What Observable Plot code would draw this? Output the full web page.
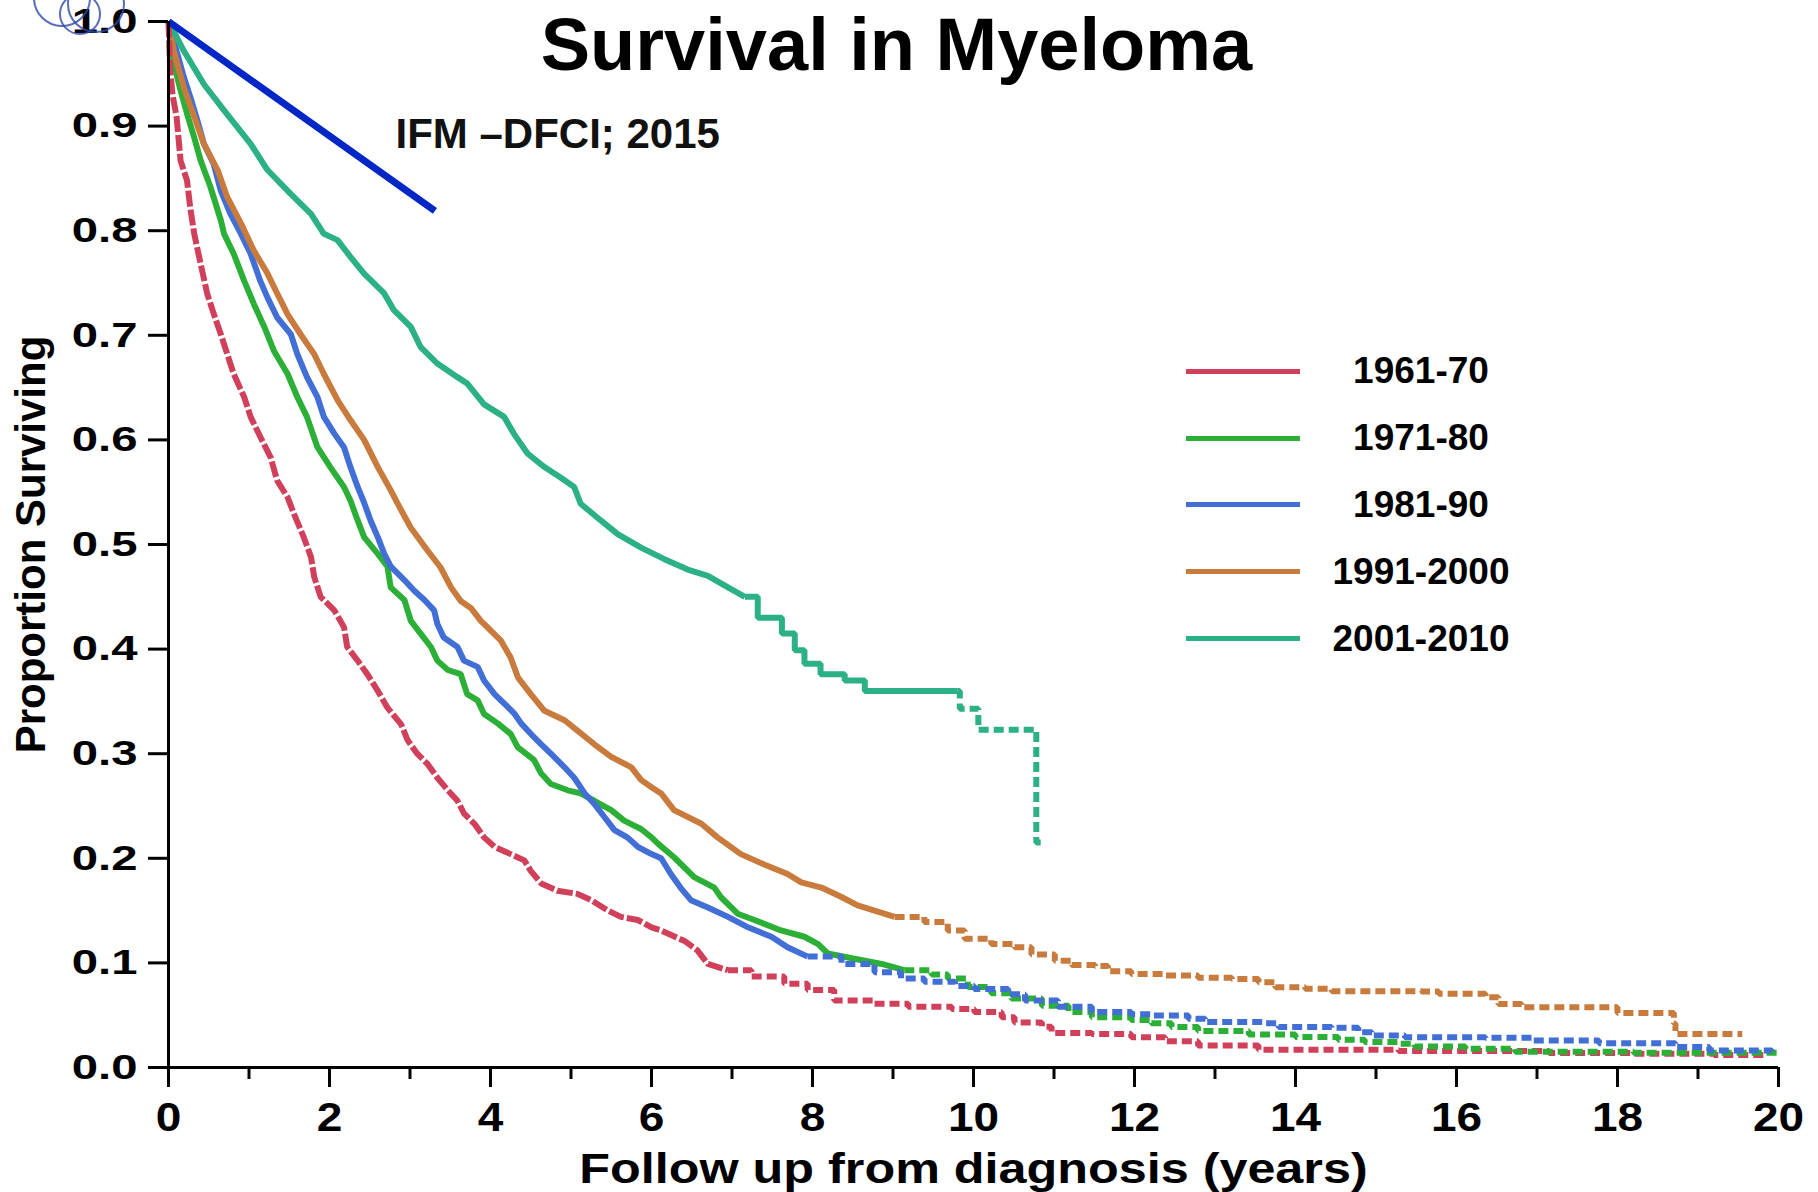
<!DOCTYPE html>
<html><head><meta charset="utf-8">
<script src="https://cdn.jsdelivr.net/npm/d3@7"></script>
<script src="https://cdn.jsdelivr.net/npm/@observablehq/plot@0.6"></script>
<style>
html,body{margin:0;padding:0;background:#fff;}
#wrap{position:relative;width:1818px;height:1192px;font-family:"Liberation Sans",Arial,sans-serif;}
#legend{position:absolute;left:1186px;top:338px;}
.row{display:flex;align-items:center;height:66.8px;}
.sw{width:114px;height:5px;}
.lab{width:242px;text-align:center;font-weight:bold;font-size:37px;color:#000;}
#logo{position:absolute;left:0;top:0;}
</style></head><body><div id="wrap"></div>
<script>
const titleText = "Survival in Myeloma";
const noteText = "IFM \u2013DFCI; 2015";
const xTitle = "Follow up from diagnosis (years)";
const yTitle = "Proportion Surviving";
const seriesNames = ["1961-70", "1971-80", "1981-90", "1991-2000", "2001-2010"];
const seriesColors = ["#d1405b", "#2baf36", "#426fd6", "#c97b3d", "#2cb086"];
const stepFrom = [7.0, 9.2, 8.0, 9.1, 7.2];
const dashFrom = [7.0, 9.2, 8.0, 9.1, 9.8];
const yTicks = [0, 0.1, 0.2, 0.3, 0.4, 0.5, 0.6, 0.7, 0.8, 0.9, 1.0];
const xTicks = [0, 2, 4, 6, 8, 10, 12, 14, 16, 18, 20];
const xMinorTicks = [1, 3, 5, 7, 9, 11, 13, 15, 17, 19];
const ifmLine = [[0, 1.0], [3.31, 0.819]];

const km1961 = [[0,1],[0.02,0.955],[0.05,0.93],[0.10,0.909],[0.15,0.867],[0.23,0.848],[0.27,0.822],[0.32,0.797],[0.40,0.768],[0.48,0.740],[0.56,0.721],[0.65,0.701],[0.73,0.682],[0.81,0.663],[0.94,0.641],[1.02,0.622],[1.14,0.603],[1.27,0.583],[1.35,0.561],[1.48,0.545],[1.56,0.529],[1.68,0.507],[1.77,0.488],[1.81,0.469],[1.89,0.450],[2.06,0.437],[2.18,0.421],[2.22,0.402],[2.35,0.389],[2.47,0.376],[2.60,0.360],[2.72,0.344],[2.89,0.328],[2.97,0.313],[3.09,0.300],[3.22,0.290],[3.34,0.277],[3.47,0.265],[3.59,0.255],[3.67,0.243],[3.80,0.233],[3.92,0.220],[4.05,0.211],[4.25,0.204],[4.42,0.198],[4.50,0.188],[4.63,0.176],[4.83,0.169],[5.08,0.166],[5.25,0.160],[5.46,0.150],[5.62,0.144],[5.83,0.141],[6.00,0.134],[6.12,0.131],[6.41,0.121],[6.57,0.112],[6.70,0.099],[6.95,0.093],[7.24,0.087],[7.65,0.080],[7.94,0.074],[8.27,0.064],[8.77,0.061],[9.19,0.058],[9.73,0.056],[10.01,0.053],[10.35,0.048],[10.51,0.043],[10.85,0.039],[10.97,0.033],[11.47,0.032],[11.96,0.029],[12.38,0.025],[12.79,0.021],[13.54,0.017],[15.28,0.0157],[17.15,0.0138],[18.18,0.0131],[19.2,0.012],[19.84,0.0105]];
const km1971 = [[0,1],[0.03,0.985],[0.066,0.96],[0.15,0.934],[0.23,0.912],[0.32,0.889],[0.40,0.867],[0.52,0.842],[0.65,0.81],[0.69,0.797],[0.81,0.778],[0.94,0.752],[1.06,0.73],[1.19,0.708],[1.31,0.685],[1.48,0.663],[1.60,0.641],[1.72,0.622],[1.85,0.593],[2.01,0.574],[2.18,0.555],[2.26,0.542],[2.35,0.523],[2.43,0.507],[2.60,0.491],[2.72,0.479],[2.76,0.459],[2.93,0.447],[3.01,0.427],[3.13,0.415],[3.26,0.402],[3.34,0.389],[3.47,0.380],[3.63,0.376],[3.71,0.357],[3.84,0.351],[3.92,0.338],[4.09,0.329],[4.25,0.319],[4.34,0.306],[4.54,0.294],[4.63,0.281],[4.75,0.271],[4.96,0.265],[5.12,0.262],[5.29,0.255],[5.50,0.246],[5.66,0.236],[5.87,0.228],[6.0,0.220],[6.08,0.214],[6.28,0.201],[6.53,0.182],[6.78,0.172],[6.86,0.163],[7.07,0.147],[7.28,0.141],[7.61,0.131],[7.90,0.125],[8.07,0.118],[8.19,0.109],[8.52,0.104],[8.86,0.099],[9.14,0.093],[9.48,0.089],[9.68,0.085],[9.93,0.077],[10.22,0.071],[10.47,0.066],[10.85,0.059],[11.18,0.053],[11.47,0.048],[11.96,0.0455],[12.21,0.0424],[12.46,0.0386],[12.79,0.0348],[13.42,0.0316],[14.0,0.0291],[14.53,0.0265],[14.86,0.0243],[15.28,0.0227],[15.48,0.0201],[16.11,0.0179],[16.73,0.015],[18.2,0.014],[20.0,0.014]];
const km1981 = [[0,1],[0.025,0.991],[0.11,0.969],[0.19,0.947],[0.27,0.928],[0.36,0.905],[0.44,0.883],[0.56,0.864],[0.65,0.838],[0.77,0.816],[0.90,0.797],[1.02,0.778],[1.14,0.752],[1.23,0.736],[1.35,0.717],[1.52,0.701],[1.60,0.682],[1.72,0.66],[1.85,0.641],[1.93,0.622],[2.06,0.606],[2.18,0.593],[2.26,0.574],[2.35,0.555],[2.43,0.540],[2.51,0.523],[2.60,0.507],[2.68,0.491],[2.76,0.479],[2.93,0.466],[3.05,0.456],[3.18,0.447],[3.30,0.437],[3.34,0.424],[3.42,0.411],[3.59,0.402],[3.67,0.389],[3.84,0.383],[3.92,0.370],[4.05,0.357],[4.17,0.348],[4.30,0.338],[4.38,0.329],[4.50,0.319],[4.63,0.309],[4.75,0.300],[4.92,0.287],[5.04,0.277],[5.17,0.262],[5.29,0.252],[5.41,0.240],[5.54,0.227],[5.70,0.220],[5.83,0.211],[6.0,0.204],[6.12,0.200],[6.24,0.185],[6.36,0.172],[6.49,0.160],[6.70,0.153],[6.95,0.144],[7.20,0.134],[7.49,0.125],[7.69,0.115],[7.94,0.106],[8.36,0.099],[8.77,0.091],[9.10,0.085],[9.39,0.082],[9.77,0.078],[10.01,0.075],[10.43,0.070],[10.64,0.064],[11.05,0.058],[11.47,0.053],[11.96,0.051],[12.21,0.0498],[12.67,0.0466],[12.88,0.0434],[13.63,0.0424],[13.79,0.0386],[14.45,0.038],[14.78,0.0338],[14.95,0.0306],[15.36,0.029],[16.36,0.0284],[16.94,0.0258],[17.77,0.0233],[18.72,0.0195],[19.14,0.0163],[19.92,0.016]];
const km1991 = [[0,1],[0.03,0.99],[0.066,0.972],[0.19,0.937],[0.32,0.909],[0.44,0.883],[0.61,0.858],[0.73,0.832],[0.90,0.807],[1.06,0.781],[1.23,0.759],[1.35,0.74],[1.48,0.72],[1.64,0.701],[1.81,0.682],[1.93,0.663],[2.10,0.638],[2.26,0.619],[2.43,0.60],[2.60,0.574],[2.76,0.552],[2.84,0.540],[3.01,0.516],[3.22,0.494],[3.38,0.478],[3.51,0.459],[3.63,0.446],[3.76,0.439],[3.88,0.427],[4.0,0.418],[4.13,0.408],[4.25,0.392],[4.34,0.373],[4.50,0.357],[4.67,0.341],[4.92,0.332],[5.08,0.322],[5.29,0.309],[5.50,0.297],[5.75,0.287],[5.87,0.275],[6.0,0.268],[6.12,0.262],[6.28,0.246],[6.62,0.233],[6.82,0.220],[7.11,0.204],[7.40,0.194],[7.69,0.185],[7.86,0.177],[8.11,0.172],[8.36,0.163],[8.56,0.155],[8.77,0.150],[9.02,0.144],[9.39,0.139],[9.68,0.131],[9.89,0.123],[10.22,0.118],[10.51,0.115],[10.72,0.108],[11.01,0.102],[11.22,0.098],[11.51,0.097],[11.67,0.092],[11.96,0.0895],[12.38,0.088],[12.79,0.0858],[13.21,0.0845],[13.54,0.0816],[13.75,0.0768],[14.12,0.0752],[14.45,0.073],[15.57,0.0727],[15.78,0.0704],[16.36,0.0672],[16.52,0.0608],[16.81,0.0577],[18.0,0.052],[18.70,0.042],[18.72,0.032],[19.55,0.032]];
const km2001 = [[0,1],[0.19,0.972],[0.44,0.94],[0.69,0.915],[1.02,0.883],[1.23,0.858],[1.52,0.835],[1.77,0.816],[1.93,0.797],[2.10,0.791],[2.26,0.775],[2.43,0.759],[2.68,0.740],[2.80,0.724],[3.01,0.708],[3.13,0.689],[3.34,0.673],[3.59,0.660],[3.71,0.654],[3.92,0.634],[4.17,0.622],[4.29,0.606],[4.46,0.587],[4.67,0.574],[4.87,0.564],[5.04,0.555],[5.12,0.539],[5.37,0.523],[5.58,0.510],[5.87,0.497],[6.16,0.486],[6.45,0.476],[6.70,0.470],[6.95,0.459],[7.16,0.450],[7.32,0.430],[7.62,0.415],[7.78,0.399],[7.90,0.386],[8.10,0.376],[8.40,0.370],[8.65,0.360],[9.83,0.343],[10.06,0.323],[10.78,0.215],[10.88,0.215]];

const curves = [km1961, km1971, km1981, km1991, km2001];

// Three segments per series: sloped solid part, stepped solid part, stepped dashed tail
const slopeRows = [], stepRows = [], dashRows = [];
curves.forEach((pts, i) => {
  const series = seriesNames[i];
  const a = stepFrom[i], b = dashFrom[i];
  const early = pts.filter(([t]) => t <= a);
  early.forEach(([t, s]) => slopeRows.push({t, s, series}));
  const joinA = early[early.length - 1];
  let last = joinA[1];
  if (b > a) {
    stepRows.push({t: joinA[0], s: joinA[1], series});
    pts.filter(([t]) => t > a && t <= b).forEach(([t, s]) => { stepRows.push({t, s, series}); last = s; });
    stepRows.push({t: b, s: last, series});
    dashRows.push({t: b, s: last, series});
  } else {
    dashRows.push({t: joinA[0], s: joinA[1], series});
  }
  pts.filter(([t]) => t > b).forEach(([t, s]) => dashRows.push({t, s, series}));
});
const firstName = seriesNames[0];

const lineOpts = {x: "t", y: "s", z: "series", stroke: "series", strokeWidth: 6,
  strokeLinecap: "butt", strokeLinejoin: "miter"};

const plot = Plot.plot({
  width: 1818, height: 1192,
  marginLeft: 168, marginRight: 40, marginTop: 21, marginBottom: 125,
  style: {fontFamily: "'Liberation Sans', Arial, sans-serif", fontWeight: "bold", background: "#fff", overflow: "visible", color: "#000"},
  x: {domain: [0, 20], label: null},
  y: {domain: [0, 1], label: null},
  color: {domain: seriesNames, range: seriesColors},
  marks: [
    Plot.line(slopeRows.filter(d => d.series !== firstName), {...lineOpts, curve: "linear"}),
    Plot.line(slopeRows.filter(d => d.series === firstName), {...lineOpts, curve: "linear", strokeDasharray: "16,3"}),
    Plot.line(stepRows, {...lineOpts, curve: "step-after"}),
    Plot.line(dashRows, {...lineOpts, curve: "step-after", strokeDasharray: "10,5"}),
    Plot.line(ifmLine, {x: d => d[0], y: d => d[1], stroke: "#0026c6", strokeWidth: 7, strokeLinecap: "butt"}),
    Plot.ruleX([0], {strokeWidth: 3, stroke: "#000"}),
    Plot.ruleY([0], {strokeWidth: 3, stroke: "#000"}),
    Plot.axisY(yTicks, {tickSize: 20, tickPadding: 11, fontSize: 35, strokeWidth: 3, tickFormat: d3.format(".1f"), label: null}),
    Plot.axisX(xTicks, {tickSize: 20, tickPadding: 14, fontSize: 41, strokeWidth: 3, tickFormat: d3.format("d"), label: null}),
    Plot.axisX(xMinorTicks, {tickSize: 12, strokeWidth: 3, tickFormat: () => "", label: null}),
    Plot.text([titleText], {text: d => d, frameAnchor: "top", lineAnchor: "middle", textAnchor: "middle", dx: -77, dy: 25, fontSize: 74, fontWeight: "bold", fill: "#000"}),
    Plot.text([noteText], {text: d => d, frameAnchor: "top-left", lineAnchor: "middle", textAnchor: "start", dx: 227, dy: 113, fontSize: 42, fontWeight: "bold", fill: "#111"}),
    Plot.text([xTitle], {text: d => d, frameAnchor: "bottom", lineAnchor: "middle", textAnchor: "middle", dy: 102, fontSize: 43, fontWeight: "bold", fill: "#000"}),
    Plot.text([yTitle], {text: d => d, frameAnchor: "left", lineAnchor: "middle", textAnchor: "middle", rotate: -90, dx: -137, fontSize: 42, fontWeight: "bold", fill: "#000"})
  ]
});

const wrap = document.getElementById("wrap");
wrap.appendChild(plot);

function stretch(nodes, f) {
  nodes.forEach(t => {
    const w = t.getComputedTextLength();
    t.setAttribute("textLength", (w * f).toFixed(1));
    t.setAttribute("lengthAdjust", "spacingAndGlyphs");
  });
}
stretch(plot.querySelectorAll('g[aria-label="y-axis tick label"] text'), 1.35);
stretch(plot.querySelectorAll('g[aria-label="x-axis tick label"] text'), 1.12);
stretch([...plot.querySelectorAll("text")].filter(t => t.textContent === xTitle), 1.17);

// legend
const legend = document.createElement("div");
legend.id = "legend";
seriesNames.forEach((name, i) => {
  const row = document.createElement("div");
  row.className = "row";
  const sw = document.createElement("span");
  sw.className = "sw";
  sw.style.background = seriesColors[i];
  const lab = document.createElement("span");
  lab.className = "lab";
  lab.textContent = name;
  row.appendChild(sw); row.appendChild(lab);
  legend.appendChild(row);
});
wrap.appendChild(legend);

// partial logo at top-left corner
const logo = d3.create("svg").attr("id", "logo").attr("width", 140).attr("height", 45);
[[62, -2, 28], [96, 4, 28], [80, 14, 20]].forEach(([cx, cy, r]) =>
  logo.append("circle").attr("cx", cx).attr("cy", cy).attr("r", r)
    .attr("fill", "none").attr("stroke", "#2c4aa6").attr("stroke-width", 2).attr("opacity", 0.8));
wrap.appendChild(logo.node());
</script></body></html>
